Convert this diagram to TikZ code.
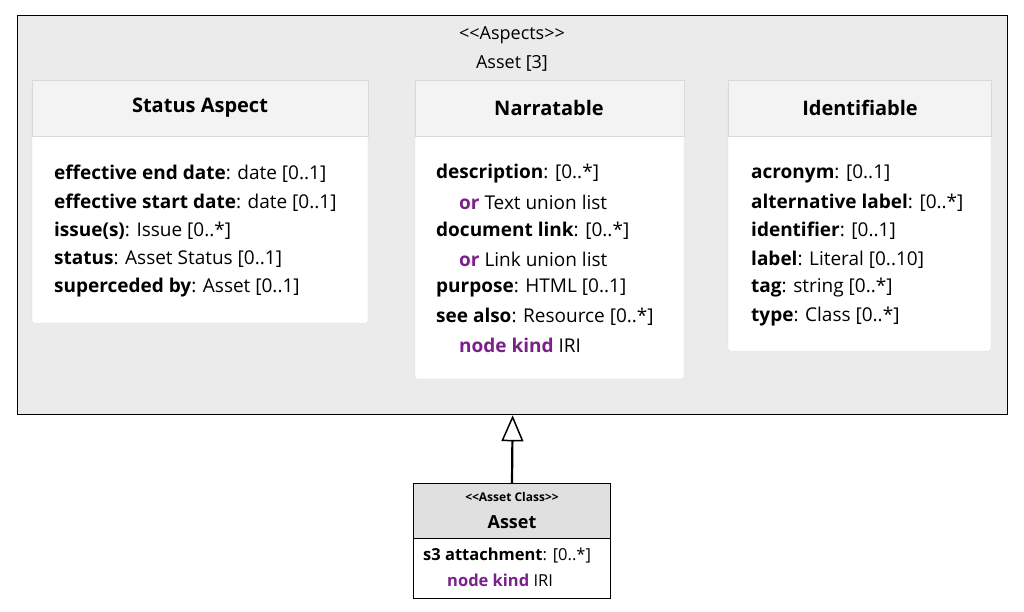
\documentclass[tikz,border=0pt]{standalone}
\usepackage{fontspec}
\setmainfont{Open Sans}
\usetikzlibrary{arrows.meta}
\definecolor{kw}{HTML}{7B1F8A}
\definecolor{outerbg}{HTML}{EBEBEB}
\definecolor{hdr}{HTML}{F3F3F3}
\newcommand{\mylt}{{<}{<}}
\newcommand{\mygt}{{>}{>}}
\begin{document}
\begin{tikzpicture}[x=1pt,y=-1pt,
  txt/.style={anchor=west,inner sep=0pt,font=\fontsize{19}{22}\selectfont},
  ttl/.style={inner sep=0pt,font=\fontsize{20}{22}\selectfont\bfseries},
  card/.style={draw=black!15,fill=white,rounded corners=2pt},
  head/.style={fill=hdr,draw=black!15}]
\useasboundingbox (0,0) rectangle (1024,612);
\fill[white] (0,0) rectangle (1024,612);
\node[draw=black,line width=1.3pt,fill=outerbg,minimum width=990,minimum height=399,anchor=north west,inner sep=0] (outer) at (17,15) {};
\node[font=\fontsize{18}{20}\selectfont] (st) at (512,35) {\mylt Aspects\mygt};
\node[font=\fontsize{18}{20}\selectfont] (sn) at (512,63) {Asset [3]};
% cards
\foreach \x/\y/\w/\h/\n in {32/80/336/243/c1, 415/80/269/299/c2, 728/80/263/271/c3}{
  \fill[black!8,rounded corners=2pt] (\x+1,\y+2) rectangle (\x+\w+2,\y+\h+3);
  \draw[card] (\x,\y) rectangle (\x+\w,\y+\h);
  \draw[head] (\x,\y) rectangle (\x+\w,\y+56);
}
\node[ttl] (t1) at (200,108) {Status Aspect};
\node[ttl] (t2) at (549,108) {Narratable};
\node[ttl] (t3) at (860,108) {Identifiable};
\node[txt] (a1) at (54,174) {\textbf{effective end date}: date [0..1]};
\node[txt] (a2) at (54,202.5) {\textbf{effective start date}: date [0..1]};
\node[txt] (a3) at (54,231) {\textbf{issue(s)}: Issue [0..*]};
\node[txt] (a4) at (54,259.5) {\textbf{status}: Asset Status [0..1]};
\node[txt] (a5) at (54,288) {\textbf{superceded by}: Asset [0..1]};
\node[txt] (b1) at (436,174) {\textbf{description}: [0..*]};
\node[txt] (b2) at (459,202.5) {\textcolor{kw}{\textbf{or}} Text union list};
\node[txt] (b3) at (436,231) {\textbf{document link}: [0..*]};
\node[txt] (b4) at (459,259.5) {\textcolor{kw}{\textbf{or}} Link union list};
\node[txt] (b5) at (436,288) {\textbf{purpose}: HTML [0..1]};
\node[txt] (b6) at (436,316.5) {\textbf{see also}: Resource [0..*]};
\node[txt] (b7) at (459,345) {\textcolor{kw}{\textbf{node kind}} IRI};
\node[txt] (d1) at (751,174) {\textbf{acronym}: [0..1]};
\node[txt] (d2) at (751,202.5) {\textbf{alternative label}: [0..*]};
\node[txt] (d3) at (751,231) {\textbf{identifier}: [0..1]};
\node[txt] (d4) at (751,259.5) {\textbf{label}: Literal [0..10]};
\node[txt] (d5) at (751,288) {\textbf{tag}: string [0..*]};
\node[txt] (d6) at (751,316.5) {\textbf{type}: Class [0..*]};
% bottom class
\fill[black!12] (413,483) rectangle (610,538);
\node[draw=black,line width=1pt,minimum width=197,minimum height=115,anchor=north west,inner sep=0] (asset) at (413,483) {};
\draw[line width=1pt] (413,538) -- (610,538);
\node[inner sep=0pt,font=\fontsize{12}{14}\selectfont\bfseries] (s1) at (512,497) {\mylt Asset Class\mygt};
\node[inner sep=0pt,font=\fontsize{18}{20}\selectfont\bfseries] (s2) at (512,522) {Asset};
\node[txt,font=\fontsize{16.5}{18}\selectfont] (e1) at (423,556) {\textbf{s3 attachment}: [0..*]};
\node[txt,font=\fontsize{16.5}{18}\selectfont] (e2) at (447,580) {\textcolor{kw}{\textbf{node kind}} IRI};
\draw[line width=2.2pt,-{Triangle[open,width=22,length=26,line width=1.5pt]}] (asset.north) -- (outer.south);
\end{tikzpicture}
\end{document}
